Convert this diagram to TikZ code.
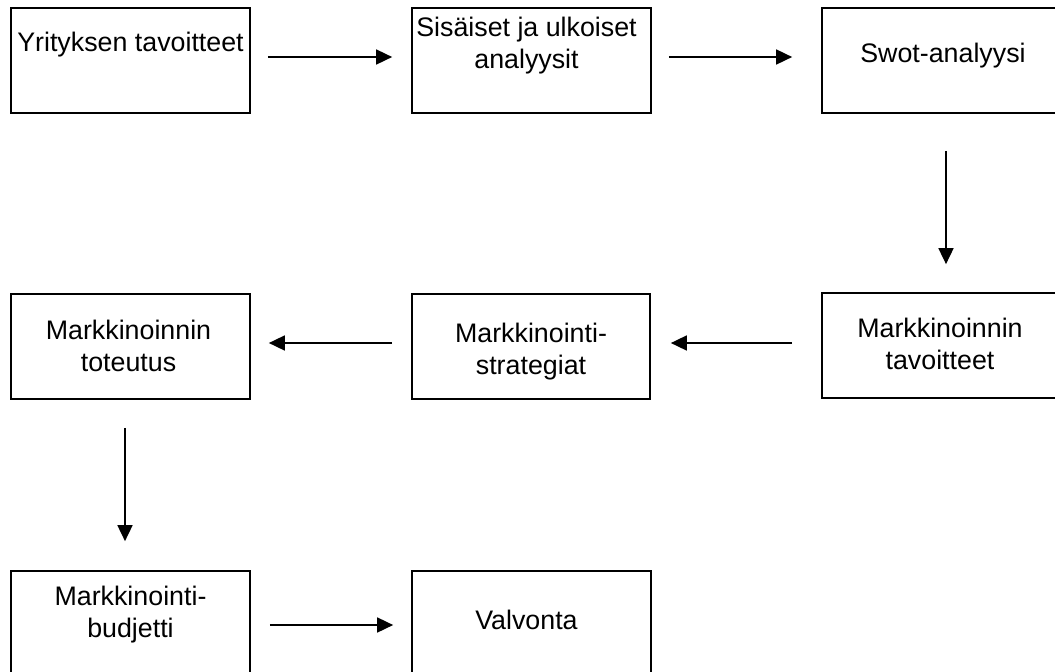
\documentclass[tikz,border=0pt]{standalone}
\usepackage{fontspec}
\setmainfont{Liberation Sans}
\usetikzlibrary{arrows.meta}
\tikzset{
  box/.style={draw=black, line width=1.7pt, rectangle, inner sep=0pt, minimum height=105pt},
  txt/.style={anchor=north, inner sep=0pt, align=center, font=\fontsize{26.8}{31.5}\selectfont},
  arr/.style={line width=1.7pt, -{Triangle[length=16pt,width=15pt]}}
}
\begin{document}
\begin{tikzpicture}[x=1pt,y=-1pt]
\useasboundingbox (0,0) rectangle (1055,672);
\clip (0,0) rectangle (1055,672);
% boxes
\node[box, minimum width=239pt] (b1) at (130.5,60.5) {};
\node[box, minimum width=239pt] (b2) at (531.5,60.5) {};
\node[box, minimum width=242pt] (b3) at (943,60.5) {};
\node[box, minimum width=239pt] (b4) at (130.5,346.5) {};
\node[box, minimum width=238pt] (b5) at (531,346.5) {};
\node[box, minimum width=242pt] (b6) at (943,345.5) {};
\node[box, minimum width=239pt] (b7) at (130.5,623.5) {};
\node[box, minimum width=239pt] (b8) at (531.5,623.5) {};
% texts
\node[txt] (t1) at ([yshift=-25pt]b1.north) {Yrityksen tavoitteet};
\node[txt] (t2) at ([xshift=-5pt,yshift=-10pt]b2.north) {Sisäiset ja ulkoiset\\analyysit};
\node[txt] (t3) at ([yshift=-36pt]b3.north) {Swot-analyysi};
\node[txt] (t4) at ([xshift=-2pt,yshift=-27pt]b4.north) {Markkinoinnin\\toteutus};
\node[txt] (t5) at ([xshift=0pt,yshift=-30pt]b5.north) {Markkinointi-\\strategiat};
\node[txt] (t6) at ([xshift=-3pt,yshift=-26pt]b6.north) {Markkinoinnin\\tavoitteet};
\node[txt] (t7) at ([xshift=0pt,yshift=-16pt]b7.north) {Markkinointi-\\budjetti};
\node[txt] (t8) at ([xshift=-5pt,yshift=-40pt]b8.north) {Valvonta};
% arrows
\draw[arr] ([xshift=17pt,yshift=3.5pt]b1.east) -- ([xshift=-19pt,yshift=3.5pt]b2.west);
\draw[arr] ([xshift=17pt,yshift=3.5pt]b2.east) -- ([xshift=-29pt,yshift=3.5pt]b3.west);
\draw[arr] ([xshift=3pt,yshift=-37pt]b3.south) -- ([xshift=3pt,yshift=28pt]b6.north);
\draw[arr] ([xshift=-29pt,yshift=2.5pt]b6.west) -- ([xshift=20pt,yshift=3.5pt]b5.east);
\draw[arr] ([xshift=-19pt,yshift=3.5pt]b5.west) -- ([xshift=18pt,yshift=3.5pt]b4.east);
\draw[arr] ([xshift=-5.5pt,yshift=-28pt]b4.south) -- ([xshift=-5.5pt,yshift=29pt]b7.north);
\draw[arr] ([xshift=19pt,yshift=-1.5pt]b7.east) -- ([xshift=-18pt,yshift=-1.5pt]b8.west);
\end{tikzpicture}
\end{document}
